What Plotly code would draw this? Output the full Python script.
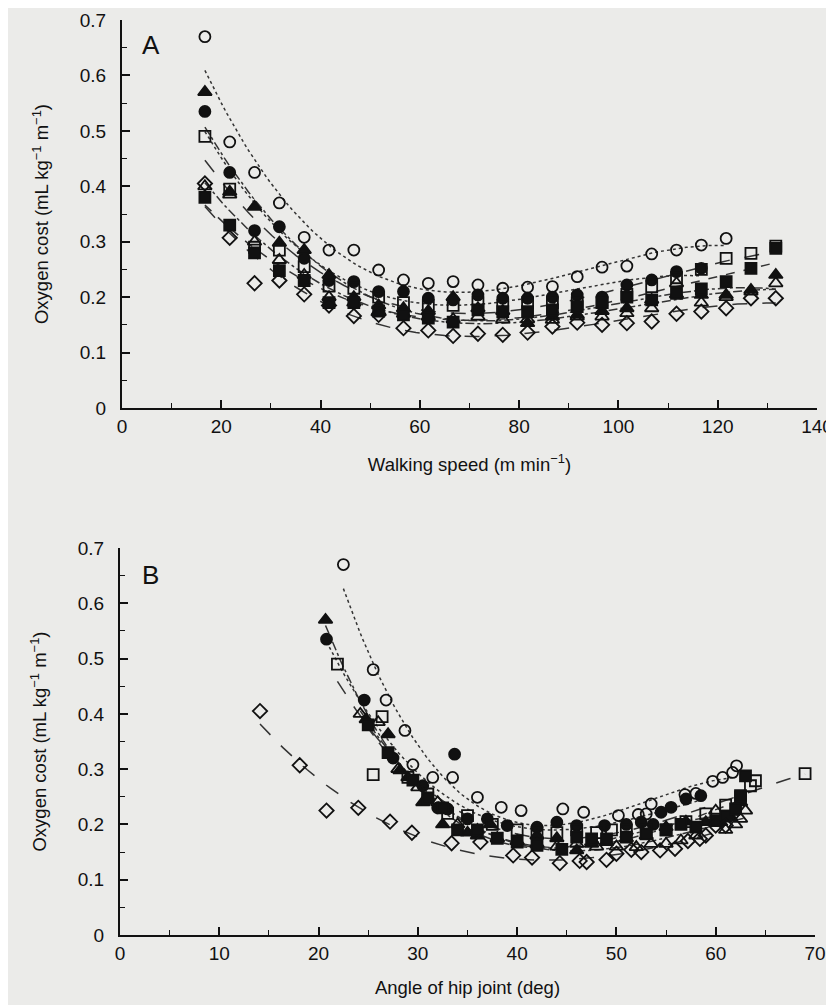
import numpy as np
import plotly.graph_objects as go

# ---------------- data ----------------
speed = [16.7, 21.7, 26.7, 31.7, 36.7, 41.7, 46.7, 51.7, 56.7, 61.7, 66.7, 71.7,
         76.7, 81.7, 86.7, 91.7, 96.7, 101.7, 106.7, 111.7, 116.7, 121.7, 126.7, 131.7]

cost_open_circle = [0.67, 0.48, 0.425, 0.37, 0.308, 0.285, 0.285, 0.249, 0.231, 0.225, 0.228,
                    0.222, 0.216, 0.218, 0.219, 0.237, 0.254, 0.256, 0.278, 0.285, 0.294, 0.306]
cost_filled_circle = [0.535, 0.425, 0.32, 0.327, 0.27, 0.23, 0.228, 0.21, 0.21, 0.198, 0.195,
                      0.204, 0.198, 0.198, 0.20, 0.204, 0.20, 0.222, 0.231, 0.246, 0.252]
cost_filled_triangle = [0.57, 0.39, 0.363, 0.298, 0.285, 0.24, 0.20, 0.185, 0.18, 0.175, 0.20, 0.18,
                        0.175, 0.153, 0.165, 0.168, 0.175, 0.18, 0.195, 0.205, 0.204, 0.204, 0.213, 0.24]
cost_open_square = [0.49, 0.395, 0.29, 0.285, 0.255, 0.22, 0.216, 0.20, 0.19, 0.185, 0.185, 0.19,
                    0.185, 0.19, 0.19, 0.19, 0.19, 0.205, 0.219, 0.235, 0.25, 0.27, 0.279, 0.292]
cost_open_triangle = [0.40, 0.385, 0.30, 0.267, 0.24, 0.20, 0.19, 0.175, 0.17, 0.165, 0.16, 0.165,
                      0.16, 0.16, 0.159, 0.165, 0.165, 0.171, 0.18, 0.225, 0.19, 0.20, 0.21, 0.225]
cost_filled_square = [0.38, 0.33, 0.28, 0.248, 0.23, 0.19, 0.19, 0.175, 0.168, 0.162, 0.155, 0.177,
                      0.174, 0.174, 0.177, 0.183, 0.19, 0.20, 0.195, 0.207, 0.215, 0.228, 0.252, 0.288]
cost_open_diamond = [0.405, 0.307, 0.225, 0.23, 0.205, 0.185, 0.166, 0.168, 0.144, 0.14, 0.13, 0.134,
                     0.132, 0.136, 0.147, 0.154, 0.15, 0.153, 0.156, 0.17, 0.174, 0.18, 0.198, 0.198]

hip_open_circle = [22.5, 25.5, 26.8, 28.7, 29.5, 31.5, 33.5, 36, 38.4, 40.4, 44.6, 46.7,
                   50.2, 52.2, 53, 53.5, 56.9, 58, 59.7, 60.7, 61.7, 62.1]
hip_filled_circle = [20.8, 24.6, 27.5, 33.7, 30.5, 32, 33, 35, 37, 39, 42, 44, 46, 48.8,
                     51, 52.5, 53.7, 54.5, 55.5, 57, 58.5]
hip_filled_triangle = [20.7, 24.8, 27, 28.2, 29, 30.5, 32.5, 35, 36, 38, 37.3, 42, 44, 46,
                       47.5, 49, 51, 53, 55, 57, 59, 60.5, 61.5, 62.5]
hip_open_square = [21.9, 26.4, 25.5, 29, 31, 33, 35, 37.5, 40, 42, 44, 46, 48, 49.5, 51,
                   53, 55, 57, 59, 61, 62.5, 63.5, 64, 69]
hip_open_triangle = [24.2, 26, 28, 30, 32, 34, 36, 38, 40, 42, 44, 46, 48, 50, 52, 53.5,
                     55, 56.5, 58, 60, 61, 62, 62.5, 63]
hip_filled_square = [25, 27, 29.5, 31, 32.5, 34, 36, 38, 40, 42, 44.5, 46, 47.5, 49, 51,
                     53, 55, 56.5, 58, 60, 61, 62, 62.5, 63]
hip_open_diamond = [14.1, 18.1, 20.8, 24, 27.2, 29.4, 33.4, 36.3, 39.6, 41.5, 44.3, 46.3,
                    47, 49, 50, 51.5, 52.5, 54.4, 55.9, 57.2, 58.4, 59, 60, 61]

speed_ticks = [0, 20, 40, 60, 80, 100, 120, 140]
hip_ticks = [0, 10, 20, 30, 40, 50, 60, 70]
cost_ticks = [0, 0.1, 0.2, 0.3, 0.4, 0.5, 0.6, 0.7]
cost_labels = ["0", "0.1", "0.2", "0.3", "0.4", "0.5", "0.6", "0.7"]

series = [
    ("open circle", cost_open_circle, hip_open_circle, "circle-open", "dot"),
    ("filled circle", cost_filled_circle, hip_filled_circle, "circle", "dot"),
    ("filled triangle", cost_filled_triangle, hip_filled_triangle, "triangle-up", "dashdot"),
    ("open square", cost_open_square, hip_open_square, "square-open", "longdash"),
    ("open triangle", cost_open_triangle, hip_open_triangle, "triangle-up-open", "dashdot"),
    ("filled square", cost_filled_square, hip_filled_square, "square", "dash"),
    ("open diamond", cost_open_diamond, hip_open_diamond, "diamond-open", "longdash"),
]

# ---------------- figure ----------------
fig = go.Figure()
INK = "#111111"
LINE = "#333333"

for name, cost, hip, sym, dash in series:
    sp = np.array(speed[:len(cost)])
    c = np.array(cost)
    h = np.array(hip)
    # fitted curves (least-squares polynomial through the data)
    pa = np.polyfit(sp, c, 3)
    xs = np.linspace(sp.min(), sp.max(), 120)
    fig.add_trace(go.Scatter(x=xs, y=np.polyval(pa, xs), mode="lines",
                             line=dict(color=LINE, width=1.5, dash=dash),
                             xaxis="x", yaxis="y", showlegend=False, hoverinfo="skip"))
    pb = np.polyfit(h, c, 3)
    hs = np.linspace(h.min(), h.max(), 120)
    fig.add_trace(go.Scatter(x=hs, y=np.polyval(pb, hs), mode="lines",
                             line=dict(color=LINE, width=1.5, dash=dash),
                             xaxis="x2", yaxis="y2", showlegend=False, hoverinfo="skip"))

for name, cost, hip, sym, dash in series:
    msize = 12 if "triangle" in sym else 11
    mk = dict(symbol=sym, size=msize, color=INK, line=dict(color=INK, width=1.8))
    fig.add_trace(go.Scatter(x=speed[:len(cost)], y=cost, mode="markers", name=name,
                             marker=mk, xaxis="x", yaxis="y", showlegend=False))
    fig.add_trace(go.Scatter(x=hip, y=cost, mode="markers", name=name,
                             marker=mk, xaxis="x2", yaxis="y2", showlegend=False))

FONT = "Liberation Sans, Arial, sans-serif"
TICKSIZE = 19
TITLESIZE = 18.5
W, H = 834, 1005
OFF = 8  # page body margin offset of the rendered figure

def xd(a, b):
    return [(a - OFF) / W, (b - OFF) / W]

def yd(top, bottom):
    return [1 - (bottom - OFF) / H, 1 - (top - OFF) / H]

axis_common = dict(showgrid=False, zeroline=False, showline=True, linecolor=INK, linewidth=2,
                   ticks="inside", ticklen=8, tickwidth=1.6, tickcolor=INK, automargin=False,
                   tickfont=dict(family=FONT, size=TICKSIZE, color=INK), mirror=False)
minor_common = dict(ticks="inside", ticklen=5, tickwidth=1.3, tickcolor=INK)

fig.update_layout(
    width=W, height=H,
    paper_bgcolor="#ebebe9", plot_bgcolor="rgba(0,0,0,0)",
    margin=dict(l=0, r=0, t=0, b=0, autoexpand=False),
    font=dict(family=FONT, size=TITLESIZE, color=INK),
    xaxis=dict(domain=xd(122, 817), range=[0, 140], tickvals=speed_ticks,
               anchor="y", minor=dict(dtick=10, **minor_common),
               title=dict(text="Walking speed (m min<sup>−1</sup>)",
                          font=dict(size=TITLESIZE, family=FONT), standoff=22),
               **axis_common),
    yaxis=dict(domain=yd(20, 408), range=[0, 0.7], tickvals=cost_ticks,
               ticktext=cost_labels, anchor="x", ticklabelstandoff=10,
               minor=dict(dtick=0.05, **minor_common),
               title=dict(text="Oxygen cost (mL kg<sup>−1</sup> m<sup>−1</sup>)",
                          font=dict(size=TITLESIZE, family=FONT), standoff=26),
               **axis_common),
    xaxis2=dict(domain=xd(120, 815), range=[0, 70], tickvals=hip_ticks, anchor="y2",
                minor=dict(dtick=5, **minor_common),
                title=dict(text="Angle of hip joint (deg)", font=dict(size=TITLESIZE, family=FONT),
                           standoff=18),
                **axis_common),
    yaxis2=dict(domain=yd(548, 935), range=[0, 0.7], tickvals=cost_ticks,
                ticktext=cost_labels, anchor="x2", ticklabelstandoff=10,
                minor=dict(dtick=0.05, **minor_common),
                title=dict(text="Oxygen cost (mL kg<sup>−1</sup> m<sup>−1</sup>)",
                           font=dict(size=TITLESIZE, family=FONT), standoff=26),
                **axis_common),
    annotations=[
        dict(text="A", x=0.026, y=0.936, xref="x domain", yref="y domain", showarrow=False,
             font=dict(family=FONT, size=26, color=INK), xanchor="left", yanchor="middle"),
        dict(text="B", x=0.029, y=0.93, xref="x2 domain", yref="y2 domain", showarrow=False,
             font=dict(family=FONT, size=26, color=INK), xanchor="left", yanchor="middle"),
    ],
)

fig.write_html("out.html")
